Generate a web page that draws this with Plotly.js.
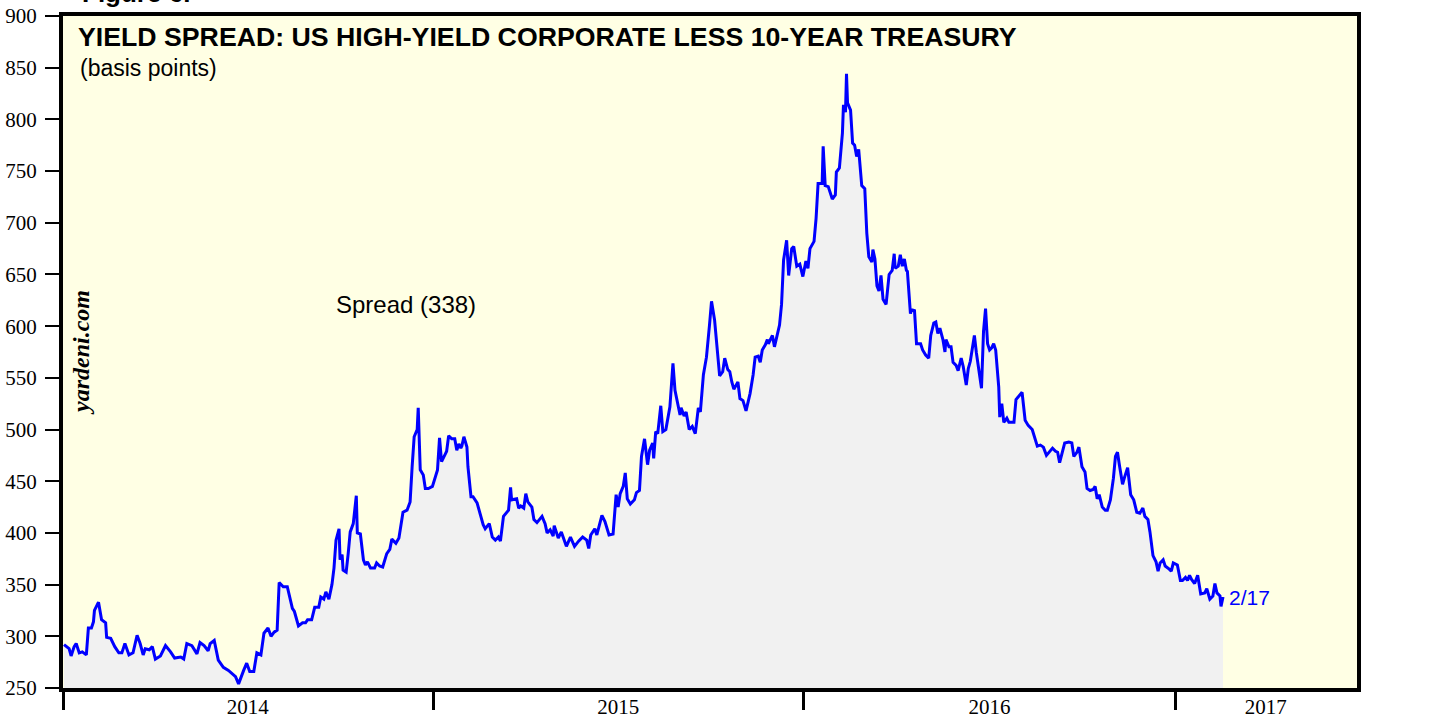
<!DOCTYPE html>
<html>
<head>
<meta charset="utf-8">
<script src="https://cdn.plot.ly/plotly-3.0.1.min.js"></script>
<style>
  html, body { margin: 0; padding: 0; background: #ffffff; }
  #chart { width: 1431px; height: 719px; }
</style>
</head>
<body>
<div id="chart"></div>
<script>
// US high-yield corporate yield less 10-year Treasury, basis points
var dates = [
  // 2014
  '2014-01-02','2014-01-07','2014-01-09','2014-01-12','2014-01-14','2014-01-17','2014-01-20','2014-01-24','2014-01-26','2014-01-29','2014-01-31',
  '2014-02-01','2014-02-05','2014-02-08','2014-02-12','2014-02-13','2014-02-17','2014-02-21','2014-02-25','2014-02-28',
  '2014-03-03','2014-03-07','2014-03-11','2014-03-15','2014-03-18','2014-03-21','2014-03-23','2014-03-27','2014-03-30',
  '2014-04-02','2014-04-07','2014-04-12','2014-04-17','2014-04-21','2014-04-27','2014-04-30',
  '2014-05-03','2014-05-08','2014-05-13','2014-05-16','2014-05-20','2014-05-24','2014-05-26','2014-05-30',
  '2014-06-03','2014-06-08','2014-06-13','2014-06-17','2014-06-20','2014-06-23','2014-06-27','2014-06-28',
  '2014-07-01','2014-07-04','2014-07-08','2014-07-11','2014-07-15','2014-07-18','2014-07-22','2014-07-25','2014-07-28','2014-07-31',
  '2014-08-02','2014-08-06','2014-08-10','2014-08-12','2014-08-15','2014-08-17','2014-08-21','2014-08-25','2014-08-28','2014-08-30',
  '2014-09-03','2014-09-06','2014-09-10','2014-09-12','2014-09-15','2014-09-17','2014-09-20','2014-09-23','2014-09-25','2014-09-27','2014-09-30',
  '2014-10-01','2014-10-03','2014-10-04','2014-10-07','2014-10-09','2014-10-11','2014-10-14','2014-10-17','2014-10-18','2014-10-21','2014-10-24','2014-10-26','2014-10-28','2014-10-31',
  '2014-11-04','2014-11-06','2014-11-09','2014-11-12','2014-11-16','2014-11-19','2014-11-21','2014-11-25','2014-11-28','2014-11-30',
  '2014-12-02','2014-12-06','2014-12-09','2014-12-11','2014-12-13','2014-12-16','2014-12-17','2014-12-19','2014-12-22','2014-12-24','2014-12-27','2014-12-31',
  // 2015
  '2015-01-03','2015-01-05','2015-01-07','2015-01-09','2015-01-13','2015-01-14','2015-01-16','2015-01-19','2015-01-22','2015-01-24','2015-01-26','2015-01-28','2015-01-29','2015-01-31',
  '2015-02-03','2015-02-04','2015-02-07','2015-02-09','2015-02-13','2015-02-16','2015-02-19','2015-02-21','2015-02-25','2015-02-28',
  '2015-03-03','2015-03-06','2015-03-08','2015-03-11','2015-03-16','2015-03-18','2015-03-19','2015-03-24','2015-03-26','2015-03-28','2015-03-31',
  '2015-04-02','2015-04-04','2015-04-08','2015-04-10','2015-04-13','2015-04-16','2015-04-18','2015-04-21','2015-04-23','2015-04-26','2015-04-29','2015-04-30',
  '2015-05-04','2015-05-07','2015-05-12','2015-05-16','2015-05-20','2015-05-24','2015-05-28',
  '2015-06-01','2015-06-03','2015-06-05','2015-06-09','2015-06-11','2015-06-16','2015-06-19','2015-06-23','2015-06-27','2015-06-30',
  '2015-07-02','2015-07-04','2015-07-07','2015-07-09','2015-07-11','2015-07-14','2015-07-18','2015-07-20','2015-07-23','2015-07-25','2015-07-28','2015-07-31',
  '2015-08-02','2015-08-05','2015-08-06','2015-08-08','2015-08-10','2015-08-13','2015-08-15','2015-08-18','2015-08-22','2015-08-25','2015-08-27','2015-08-30',
  '2015-09-01','2015-09-02','2015-09-05','2015-09-07','2015-09-10','2015-09-13','2015-09-16','2015-09-19','2015-09-21','2015-09-24','2015-09-27','2015-09-30',
  '2015-10-02','2015-10-05','2015-10-08','2015-10-10','2015-10-13','2015-10-15','2015-10-18','2015-10-20','2015-10-22','2015-10-24','2015-10-28','2015-10-30',
  '2015-11-02','2015-11-05','2015-11-09','2015-11-12','2015-11-14','2015-11-17','2015-11-19','2015-11-21','2015-11-24','2015-11-26','2015-11-27',
  '2015-12-01','2015-12-03','2015-12-08','2015-12-10','2015-12-12','2015-12-15','2015-12-17','2015-12-20','2015-12-22','2015-12-25','2015-12-28','2015-12-31',
  // 2016
  '2016-01-03','2016-01-05','2016-01-07','2016-01-11','2016-01-13','2016-01-15','2016-01-19','2016-01-20','2016-01-22','2016-01-25','2016-01-29',
  '2016-02-01','2016-02-02','2016-02-05','2016-02-08','2016-02-09','2016-02-11','2016-02-12','2016-02-13','2016-02-16','2016-02-18','2016-02-20','2016-02-22','2016-02-24','2016-02-27',
  '2016-03-01','2016-03-03','2016-03-05','2016-03-08','2016-03-09','2016-03-11','2016-03-13','2016-03-15','2016-03-17','2016-03-19','2016-03-22','2016-03-25','2016-03-28','2016-03-30','2016-03-31',
  '2016-04-03','2016-04-05','2016-04-07','2016-04-09','2016-04-11','2016-04-12','2016-04-15','2016-04-16','2016-04-19','2016-04-21','2016-04-25','2016-04-27','2016-04-30',
  '2016-05-03','2016-05-05','2016-05-08','2016-05-10','2016-05-12','2016-05-14','2016-05-17','2016-05-19','2016-05-20','2016-05-23','2016-05-25','2016-05-27','2016-05-30',
  '2016-06-01','2016-06-04','2016-06-06','2016-06-09','2016-06-11','2016-06-13','2016-06-15','2016-06-17','2016-06-19','2016-06-21','2016-06-24','2016-06-26','2016-06-28','2016-06-30',
  '2016-07-02','2016-07-04','2016-07-06','2016-07-08','2016-07-11','2016-07-12','2016-07-14','2016-07-16','2016-07-19','2016-07-21','2016-07-26','2016-07-28','2016-07-31',
  '2016-08-03','2016-08-06','2016-08-09','2016-08-13','2016-08-16','2016-08-18','2016-08-21','2016-08-24','2016-08-27','2016-08-30',
  '2016-09-02','2016-09-05','2016-09-07','2016-09-09','2016-09-12','2016-09-14','2016-09-18','2016-09-21','2016-09-23','2016-09-26','2016-09-28',
  '2016-10-01','2016-10-04','2016-10-06','2016-10-09','2016-10-12','2016-10-14','2016-10-16','2016-10-18','2016-10-21','2016-10-24','2016-10-26','2016-10-29',
  '2016-11-01','2016-11-03','2016-11-05','2016-11-07','2016-11-10','2016-11-12','2016-11-15','2016-11-18','2016-11-21','2016-11-24','2016-11-27','2016-11-30',
  '2016-12-02','2016-12-05','2016-12-07','2016-12-10','2016-12-13','2016-12-15','2016-12-17','2016-12-20','2016-12-22','2016-12-26','2016-12-28','2016-12-30',
  // 2017
  '2017-01-03','2017-01-06','2017-01-08','2017-01-11','2017-01-13','2017-01-15','2017-01-17','2017-01-20','2017-01-23','2017-01-26','2017-01-30',
  '2017-02-01','2017-02-04','2017-02-07','2017-02-09','2017-02-11','2017-02-14','2017-02-15','2017-02-17'
];

var spread = [
  // 2014
  292,288,281,290,293,284,285,282,308,308,314,
  325,333,316,313,299,298,290,284,284,
  293,282,284,301,293,282,288,287,290,
  278,281,291,285,279,280,278,
  293,291,283,294,291,286,293,296,
  277,270,267,263,261,254,263,267,
  274,266,266,284,282,303,308,300,304,306,
  352,348,348,340,327,324,310,313,313,316,
  316,328,328,338,336,343,336,350,366,393,404,
  374,379,364,362,380,401,409,436,400,399,374,369,372,366,
  366,371,368,367,380,384,394,390,395,407,
  420,422,430,464,493,500,521,461,456,443,443,445,
  // 2015
  456,461,492,469,477,479,494,491,491,480,486,482,484,493,
  483,464,435,435,429,419,408,404,409,396,
  393,396,392,416,422,444,432,433,424,426,424,
  438,430,425,413,410,413,416,409,400,403,397,407,
  395,401,387,396,387,392,396,
  393,385,398,404,398,417,411,398,399,437,
  425,438,445,458,433,428,432,439,441,474,491,466,
  480,487,472,498,496,523,498,500,522,564,538,522,
  514,521,513,517,500,503,496,521,517,553,570,601,
  624,606,570,552,556,569,558,556,546,539,546,530,
  528,518,535,553,570,571,565,577,582,587,583,
  591,580,601,621,664,683,649,675,677,658,660,648,
  // 2016
  663,656,675,682,704,738,738,774,736,735,723,
  727,749,753,787,814,807,844,816,809,777,775,764,771,736,
  733,690,667,662,674,665,639,634,649,626,621,650,654,670,656,
  658,669,658,665,654,653,612,616,615,583,583,577,572,
  569,591,603,604,593,598,587,575,587,580,580,565,562,
  557,569,561,543,559,566,579,591,574,559,540,595,617,583,
  577,579,583,577,541,512,525,507,511,507,507,529,533,
  536,509,504,500,490,484,485,483,475,479,
  482,479,478,468,480,487,488,487,474,478,483,
  464,459,443,441,442,445,433,437,425,422,422,432,
  453,474,478,465,447,454,463,437,432,420,419,424,
  416,413,401,378,372,363,371,374,368,365,363,371,
  // 2017
  369,354,354,357,354,359,355,351,359,341,342,
  346,336,339,351,342,339,329,338
];

// year boundaries (ticks) and year labels
var yearStarts = ['2014-01-01', '2015-01-01', '2016-01-01', '2017-01-01'];
var yearLabels = ['2014', '2015', '2016', '2017'];
var xEnd = '2017-06-29';

// put each year label in the middle of the visible part of that year
var labelPos = [];
for (var i = 0; i < yearStarts.length; i++) {
    var a = new Date(yearStarts[i] + 'T00:00:00Z').getTime();
    var bStr = (i < yearStarts.length - 1) ? yearStarts[i + 1] : xEnd;
    var b = new Date(bStr + 'T00:00:00Z').getTime();
    labelPos.push(new Date((a + b) / 2).toISOString().slice(0, 10));
}

var lastDate = dates[dates.length - 1];
var lastValue = spread[spread.length - 1];
var dp = lastDate.split('-');
var lastLabel = (+dp[1]) + '/' + (+dp[2]);

var trace = {
    x: dates,
    y: spread,
    type: 'scatter',
    mode: 'lines',
    line: {color: '#0000ff', width: 3},
    fill: 'tozeroy',
    fillcolor: '#f1f1f1',
    hoverinfo: 'x+y'
};

var serif = 'Liberation Serif, Times New Roman, serif';
var sans = 'Liberation Sans, Arial, Helvetica, sans-serif';

var layout = {
    width: 1431,
    height: 719,
    margin: {l: 63, r: 74, t: 16, b: 31},
    paper_bgcolor: '#ffffff',
    plot_bgcolor: '#ffffe4',
    showlegend: false,
    font: {family: serif, size: 21, color: '#000000'},
    title: {
        text: '<b>YIELD SPREAD: US HIGH-YIELD CORPORATE LESS 10-YEAR TREASURY</b>',
        font: {family: sans, size: 26.7, color: '#000000'},
        xref: 'paper', x: 0.0116, xanchor: 'left',
        yref: 'container', y: 1 - 37 / 719, yanchor: 'middle'
    },
    xaxis: {
        type: 'date',
        range: ['2014-01-01', xEnd],
        tickmode: 'array',
        tickvals: labelPos,
        ticktext: yearLabels,
        ticks: '',
        minor: {
            tickmode: 'array',
            tickvals: yearStarts,
            ticks: 'outside',
            ticklen: 18,
            tickwidth: 3,
            tickcolor: '#000000',
            showgrid: false
        },
        showline: true,
        linewidth: 4,
        linecolor: '#000000',
        mirror: true,
        showgrid: false,
        zeroline: false,
        ticklabelstandoff: -3,
        tickfont: {family: serif, size: 21, color: '#000000'}
    },
    yaxis: {
        range: [250, 900],
        tick0: 250,
        dtick: 50,
        ticks: 'outside',
        ticklen: 14,
        tickwidth: 2,
        tickcolor: '#000000',
        showline: true,
        linewidth: 4,
        linecolor: '#000000',
        mirror: true,
        showgrid: false,
        zeroline: false,
        ticklabelstandoff: 4,
        tickfont: {family: serif, size: 21, color: '#000000'}
    },
    yaxis2: {
        overlaying: 'y',
        side: 'right',
        anchor: 'x',
        range: [250, 900],
        tick0: 250,
        dtick: 50,
        ticks: 'outside',
        ticklen: 14,
        tickwidth: 2,
        tickcolor: '#000000',
        showline: true,
        linewidth: 4,
        linecolor: '#000000',
        showgrid: false,
        zeroline: false,
        ticklabelstandoff: 11,
        tickfont: {family: serif, size: 21, color: '#000000'}
    },
    annotations: [
        {
            text: '(basis points)',
            xref: 'paper', x: 0.0116, xanchor: 'left',
            yref: 'paper', y: (688 - 68) / 672, yanchor: 'middle',
            showarrow: false,
            font: {family: sans, size: 23, color: '#000000'}
        },
        {
            text: 'Spread (' + Math.round(lastValue) + ')',
            xref: 'paper', x: 0.265, xanchor: 'center',
            yref: 'paper', y: 0.570, yanchor: 'middle',
            showarrow: false,
            font: {family: sans, size: 24, color: '#000000'}
        },
        {
            text: lastLabel,
            xref: 'x', x: lastDate, xanchor: 'left', xshift: 4,
            yref: 'y', y: lastValue, yanchor: 'middle',
            showarrow: false,
            font: {family: sans, size: 21, color: '#0000ff'}
        },
        {
            text: '<b><i>yardeni.com</i></b>',
            textangle: -90,
            xref: 'paper', x: 0.0139, xanchor: 'center',
            yref: 'paper', y: 0.5, yanchor: 'middle',
            showarrow: false,
            font: {family: serif, size: 24, color: '#000000'}
        },
        {
            text: '<b>Figure 6.</b>',
            xref: 'paper', x: 0.013, xanchor: 'left',
            yref: 'paper', y: 1 + 23 / 672, yanchor: 'middle',
            showarrow: false,
            font: {family: sans, size: 26, color: '#000000'}
        }
    ]
};

Plotly.newPlot('chart', [trace], layout, {displayModeBar: false});
</script>
</body>
</html>
